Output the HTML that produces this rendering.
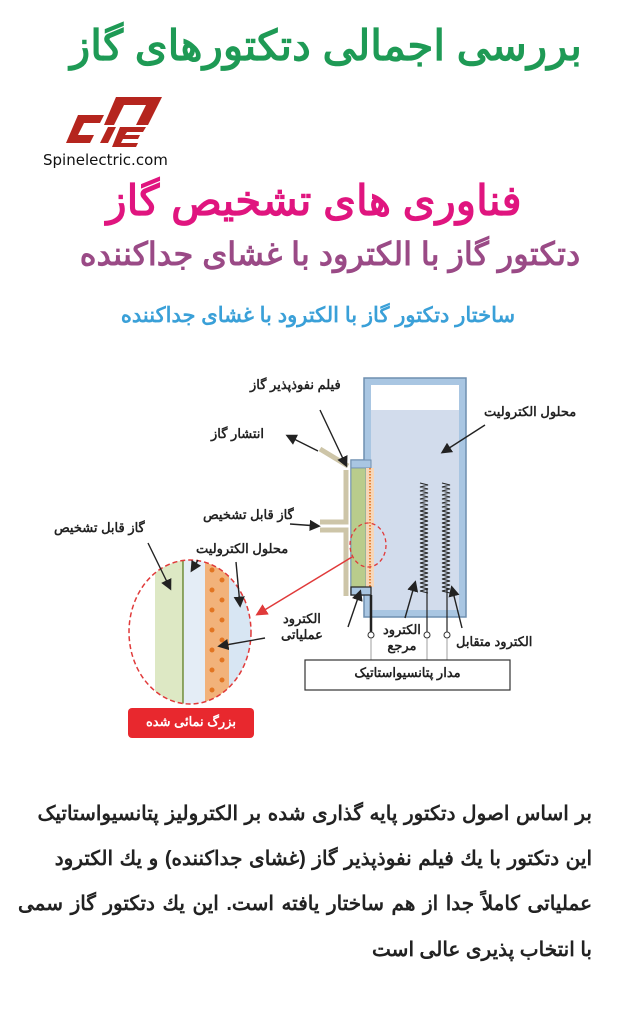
<!DOCTYPE html>
<html><head><meta charset="utf-8">
<style>
body{margin:0;width:622px;height:1024px;background:#fff;position:relative;overflow:hidden;font-family:"Liberation Sans","Noto Sans CJK SC",sans-serif;}
.t{position:absolute;white-space:nowrap;font-weight:bold;direction:rtl;line-height:1;}
.l{position:absolute;white-space:nowrap;font-weight:bold;direction:rtl;font-size:13px;color:#222;line-height:1;}
</style></head><body>
<div class="t" style="left:40px;top:25px;font-size:42px;color:#1e9a55;width:572px;text-align:center">بررسی اجمالی دتکتورهای گاز</div>
<svg style="position:absolute;left:64px;top:95px" width="100" height="55" viewBox="0 0 100 55">
<path d="M52 2 L98 2 L84 30 L72 30 L82 10 L60 10 L50 30 L40 30 Z" fill="#b5251e"/>
<path d="M14 20 L40 20 L36 28 L20 28 L14 40 L30 40 L26 48 L2 48 Z" fill="#b5251e"/>
<path d="M44 32 L52 32 L44 48 L36 48 Z" fill="#b5251e"/>
<path d="M56 32 L82 32 L79 37 L63 37 L61 40 L76 40 L74 44 L59 44 L57 48 L74 48 L72 52 L48 52 Z" fill="#b5251e"/>
</svg>
<div style="position:absolute;left:43px;top:151px;font-size:15px;color:#111;font-family:'DejaVu Sans',sans-serif">Spinelectric.com</div>
<div class="t" style="left:64px;top:180px;width:500px;text-align:center;font-size:42px;color:#e0157f">فناوری های تشخیص گاز</div>
<div class="t" style="left:60px;top:238px;width:540px;text-align:center;font-size:32px;color:#9a4a86">دتکتور گاز با الکترود با غشای جداکننده</div>
<div class="t" style="left:98px;top:305px;width:440px;text-align:center;font-size:21px;color:#3aa0d8">ساختار دتکتور گاز با الکترود با غشای جداکننده</div>

<svg style="position:absolute;left:0;top:340px" width="622" height="420" viewBox="0 340 622 420">
<defs>
<marker id="ah" markerWidth="8" markerHeight="8" refX="6" refY="4" orient="auto"><path d="M0 0 L8 4 L0 8 Z" fill="#222"/></marker>
<marker id="ar" markerWidth="8" markerHeight="8" refX="6" refY="4" orient="auto"><path d="M0 0 L8 4 L0 8 Z" fill="#e03a3a"/></marker>
<clipPath id="ec"><ellipse cx="190" cy="632" rx="61" ry="72"/></clipPath>
</defs>
<path d="M320 449 L348 466 M346 470 L346 522 L320 522 M320 530 L346 530 L346 596" stroke="#cdc5a8" stroke-width="5" fill="none"/>
<path d="M364 378 L466 378 L466 617 L364 617 L364 595 L351 595 L351 587 L364 587 Z" fill="#a9c6e2"/>
<path d="M351 460 L364 460 L364 378 L466 378 L466 617 L364 617 L364 595 L351 595 Z" fill="none" stroke="#6f8fb0" stroke-width="1.5"/>
<rect x="371" y="385" width="88" height="225" fill="#fff"/>
<rect x="371" y="410" width="88" height="200" fill="#d2dcec"/>
<rect x="351" y="460" width="20" height="8" fill="#a9c6e2" stroke="#6f8fb0"/>
<rect x="351" y="468" width="15" height="119" fill="#b9cc8c" stroke="#6f8fb0" stroke-width="0.8"/>
<rect x="366" y="468" width="8" height="119" fill="#f6d6b8"/>
<line x1="370" y1="468" x2="370" y2="587" stroke="#e5843a" stroke-width="2" stroke-dasharray="1.5 1.5"/>
<rect x="351" y="587" width="20" height="8" fill="#a9c6e2" stroke="#222" stroke-width="1.2"/>
<path d="M420 483 l8 2 l-8 2 l8 2 l-8 2 l8 2 l-8 2 l8 2 l-8 2 l8 2 l-8 2 l8 2 l-8 2 l8 2 l-8 2 l8 2 l-8 2 l8 2 l-8 2 l8 2 l-8 2 l8 2 l-8 2 l8 2 l-8 2 l8 2 l-8 2 l8 2 l-8 2 l8 2 l-8 2 l8 2 l-8 2 l8 2 l-8 2 l8 2 l-8 2 l8 2 l-8 2 l8 2 l-8 2 l8 2 l-8 2 l8 2 l-8 2 l8 2 l-8 2 l8 2 l-8 2 l8 2 l-8 2 l8 2 l-8 2 l8 2 l-8 2 l8 2" stroke="#222" fill="none" stroke-width="1"/>
<path d="M442 483 l8 2 l-8 2 l8 2 l-8 2 l8 2 l-8 2 l8 2 l-8 2 l8 2 l-8 2 l8 2 l-8 2 l8 2 l-8 2 l8 2 l-8 2 l8 2 l-8 2 l8 2 l-8 2 l8 2 l-8 2 l8 2 l-8 2 l8 2 l-8 2 l8 2 l-8 2 l8 2 l-8 2 l8 2 l-8 2 l8 2 l-8 2 l8 2 l-8 2 l8 2 l-8 2 l8 2 l-8 2 l8 2 l-8 2 l8 2 l-8 2 l8 2 l-8 2 l8 2 l-8 2 l8 2 l-8 2 l8 2 l-8 2 l8 2 l-8 2 l8 2" stroke="#222" fill="none" stroke-width="1"/>
<line x1="371" y1="595" x2="371" y2="632" stroke="#222" stroke-width="2.5"/>
<line x1="427" y1="588" x2="427" y2="632" stroke="#222" stroke-width="1.2"/>
<line x1="447" y1="588" x2="447" y2="632" stroke="#222" stroke-width="1.2"/>
<g fill="#fff" stroke="#333" stroke-width="1"><circle cx="371" cy="635" r="3"/><circle cx="427" cy="635" r="3"/><circle cx="447" cy="635" r="3"/></g>
<path d="M371 638 V660 M427 638 V660 M447 638 V660" stroke="#888" stroke-width="0.8"/>
<rect x="305" y="660" width="205" height="30" fill="#fff" stroke="#333" stroke-width="1.2"/>
<ellipse cx="368" cy="545" rx="18" ry="22" fill="none" stroke="#e03a3a" stroke-width="1.3" stroke-dasharray="4 3"/>
<line x1="352" y1="557" x2="258" y2="614" stroke="#e03a3a" stroke-width="1.5" marker-end="url(#ar)"/>
<g clip-path="url(#ec)">
<rect x="120" y="550" width="35" height="170" fill="#fff"/>
<rect x="155" y="550" width="28" height="170" fill="#dde8c4"/>
<line x1="183" y1="550" x2="183" y2="720" stroke="#6d8a3a" stroke-width="1.5"/>
<rect x="184" y="550" width="21" height="170" fill="#e4edf6"/>
<rect x="205" y="550" width="24" height="170" fill="#f2b27a"/>
<rect x="229" y="550" width="30" height="170" fill="#d8e6f3"/>
</g>
<g fill="#e27522"><circle cx="212" cy="570" r="2.5"/><circle cx="222" cy="580" r="2.5"/><circle cx="212" cy="590" r="2.5"/><circle cx="222" cy="600" r="2.5"/><circle cx="212" cy="610" r="2.5"/><circle cx="222" cy="620" r="2.5"/><circle cx="212" cy="630" r="2.5"/><circle cx="222" cy="640" r="2.5"/><circle cx="212" cy="650" r="2.5"/><circle cx="222" cy="660" r="2.5"/><circle cx="212" cy="670" r="2.5"/><circle cx="222" cy="680" r="2.5"/><circle cx="212" cy="690" r="2.5"/></g>
<ellipse cx="190" cy="632" rx="61" ry="72" fill="none" stroke="#e03a3a" stroke-width="1.5" stroke-dasharray="5 3"/>
<rect x="128" y="708" width="126" height="30" rx="4" fill="#e8282e"/>
<g stroke="#222" stroke-width="1.4" fill="none">
<line x1="320" y1="410" x2="346" y2="465" marker-end="url(#ah)"/>
<line x1="318" y1="451" x2="288" y2="436" marker-end="url(#ah)"/>
<line x1="485" y1="425" x2="443" y2="452" marker-end="url(#ah)"/>
<line x1="290" y1="524" x2="318" y2="526" marker-end="url(#ah)"/>
<line x1="148" y1="543" x2="170" y2="588" marker-end="url(#ah)"/>
<line x1="236" y1="562" x2="240" y2="605" marker-end="url(#ah)"/>
<line x1="198" y1="560" x2="192" y2="570" marker-end="url(#ah)"/>
<line x1="265" y1="638" x2="220" y2="646" marker-end="url(#ah)"/>
<line x1="348" y1="627" x2="360" y2="592" marker-end="url(#ah)"/>
<line x1="405" y1="618" x2="415" y2="583" marker-end="url(#ah)"/>
<line x1="462" y1="628" x2="452" y2="588" marker-end="url(#ah)"/>
</g>
</svg>
<div class="l" style="left:250px;top:378px">فیلم نفوذپذیر گاز</div>
<div class="l" style="left:211px;top:427px">انتشار گاز</div>
<div class="l" style="left:484px;top:405px">محلول الکترولیت</div>
<div class="l" style="left:203px;top:508px">گاز قابل تشخیص</div>
<div class="l" style="left:54px;top:521px">گاز قابل تشخیص</div>
<div class="l" style="left:196px;top:542px">محلول الکترولیت</div>
<div class="l" style="left:281px;top:611px;text-align:center;line-height:1.2">الکترود<br>عملیاتی</div>
<div class="l" style="left:383px;top:622px;text-align:center;line-height:1.2">الکترود<br>مرجع</div>
<div class="l" style="left:456px;top:635px">الکترود متقابل</div>
<div class="l" style="left:305px;top:666px;width:205px;text-align:center">مدار پتانسیواستاتیک</div>
<div class="l" style="left:128px;top:715px;width:126px;text-align:center;color:#fff">بزرگ نمائی شده</div>

<div class="t" style="right:30px;top:804px;font-size:20px;color:#222;word-spacing:1px">بر اساس اصول دتکتور پایه گذاری شده بر الکترولیز پتانسیواستاتیک</div>
<div class="t" style="right:30px;top:849px;font-size:20px;color:#222;word-spacing:1px">این دتکتور با یك فیلم نفوذپذیر گاز (غشای جداکننده) و یك الکترود</div>
<div class="t" style="right:30px;top:894px;font-size:20px;color:#222;word-spacing:2px">عملیاتی کاملاً جدا از هم ساختار یافته است. این یك دتکتور گاز سمی</div>
<div class="t" style="right:30px;top:940px;font-size:20px;color:#222">با انتخاب پذیری عالی است</div>
</body></html>
